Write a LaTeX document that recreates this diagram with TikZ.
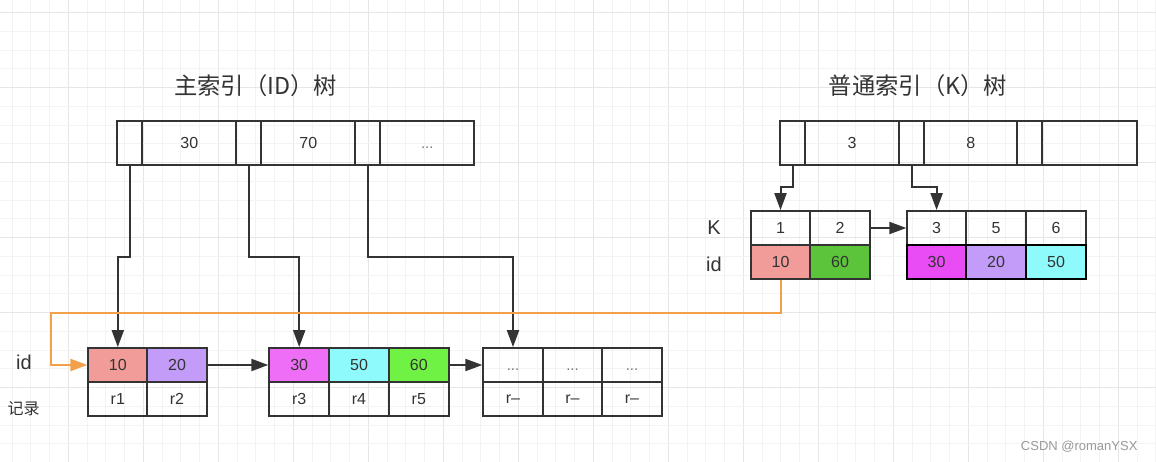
\documentclass[tikz,border=0pt]{standalone}
\usepackage{fontspec}
\setmainfont{Liberation Sans}
\newfontfamily\cjk{Noto Sans CJK SC}
\usetikzlibrary{arrows.meta}
\definecolor{linec}{HTML}{333333}
\definecolor{textc}{HTML}{333333}
\definecolor{gridminor}{HTML}{F3F3F3}
\definecolor{gridmajor}{HTML}{E6E6E6}
\definecolor{orangec}{HTML}{F2A04C}
\definecolor{cten}{HTML}{F19C99}
\definecolor{ctwenty}{HTML}{C39BF8}
\definecolor{cthirtyb}{HTML}{EE6EF7}
\definecolor{cthirtyr}{HTML}{E94BF5}
\definecolor{cfifty}{HTML}{8FFAFB}
\definecolor{csixtyb}{HTML}{6FF244}
\definecolor{csixtyr}{HTML}{5CC43A}
\definecolor{markc}{HTML}{999999}
\definecolor{dotc}{HTML}{777777}
\tikzset{
  cell/.style={draw=linec, line width=1.8pt, minimum height=34pt, inner sep=0pt,
    font=\fontsize{16}{16}\selectfont, text=textc},
  topcell/.style={cell, minimum height=44pt},
  arr/.style={draw=linec, line width=2pt, -{Triangle[length=17pt,width=12pt]}},
  oarr/.style={draw=orangec, line width=2pt, -{Triangle[length=17pt,width=12pt]}},
  title/.style={font=\cjk\fontsize{23.3}{23.3}\selectfont, text=textc},
  lbl/.style={font=\fontsize{20}{20}\selectfont, text=textc},
  dots/.style={font=\fontsize{15}{15}\selectfont, text=dotc, execute at begin node=\vphantom{0}}
}
\begin{document}
\begin{tikzpicture}[x=1pt,y=-1pt]
\useasboundingbox (0,0) rectangle (1156,462);
\fill[white] (0,0) rectangle (1156,462);
% grid
\foreach \i in {0,...,61}{
  \pgfmathsetmacro{\gx}{12.05+18.75*\i}
  \pgfmathtruncatemacro{\gm}{mod(\i,4)}
  \ifnum\gm=3
    \draw[gridmajor, line width=1pt] (\gx,0) -- (\gx,462);
  \else
    \draw[gridminor, line width=1pt] (\gx,0) -- (\gx,462);
  \fi
}
\foreach \j in {0,...,23}{
  \pgfmathsetmacro{\gy}{12.7+18.75*\j}
  \pgfmathtruncatemacro{\gm}{mod(\j,4)}
  \ifnum\gm=0
    \draw[gridmajor, line width=1pt] (0,\gy) -- (1156,\gy);
  \else
    \draw[gridminor, line width=1pt] (0,\gy) -- (1156,\gy);
  \fi
}
% titles
\node[title] (t1) at (255.5,86) {主索引（ID）树};
\node[title] (t2) at (918,86) {普通索引（K）树};
% main tree root
\node[topcell, minimum width=25pt] (m0) at (129.8,143.3) {};
\node[topcell, minimum width=94pt] (m1) at (189.3,143.3) {30};
\node[topcell, minimum width=25pt] (m2) at (248.8,143.3) {};
\node[topcell, minimum width=94pt] (m3) at (308.3,143.3) {70};
\node[topcell, minimum width=25pt] (m4) at (367.8,143.3) {};
\node[topcell, minimum width=94pt, dots] (m5) at (427.3,143.3) {...};
% K tree root
\node[topcell, minimum width=25pt] (k0) at (792.5,143.3) {};
\node[topcell, minimum width=94.3pt] (k1) at (852.1,143.3) {3};
\node[topcell, minimum width=24.7pt] (k2) at (911.7,143.3) {};
\node[topcell, minimum width=93.3pt] (k3) at (970.7,143.3) {8};
\node[topcell, minimum width=25pt] (k4) at (1029.8,143.3) {};
\node[topcell, minimum width=94.4pt] (k5) at (1089.5,143.3) {};
% K leaves
\node[cell, minimum width=59.5pt] (p1a) at (780.5,228) {1};
\node[cell, minimum width=60pt] (p1b) at (840,228) {2};
\node[cell, minimum width=59.5pt, fill=cten] (p1c) at (780.5,262) {10};
\node[cell, minimum width=60pt, fill=csixtyr] (p1d) at (840,262) {60};
\node[cell, minimum width=58.7pt] (p2a) at (936.6,228) {3};
\node[cell, minimum width=60pt] (p2b) at (996,228) {5};
\node[cell, minimum width=60pt] (p2c) at (1056,228) {6};
\node[cell, minimum width=58.7pt, fill=cthirtyr, draw=black, line width=2.2pt] (p2d) at (936.6,262) {30};
\node[cell, minimum width=60pt, fill=ctwenty, draw=black, line width=2.2pt] (p2e) at (996,262) {20};
\node[cell, minimum width=60pt, fill=cfifty, draw=black, line width=2.2pt] (p2f) at (1056,262) {50};
% K labels
\node[lbl] (lk) at (714,228) {K};
\node[lbl] (lid2) at (714,264) {id};
% bottom leaves
\node[cell, minimum width=59pt, fill=cten] (b1a) at (117.8,365) {10};
\node[cell, minimum width=59.4pt, fill=ctwenty] (b1b) at (177,365) {20};
\node[cell, minimum width=59pt] (b1c) at (117.8,399) {r1};
\node[cell, minimum width=59.4pt] (b1d) at (177,399) {r2};
\node[cell, minimum width=60pt, fill=cthirtyb] (b2a) at (299.2,365) {30};
\node[cell, minimum width=60pt, fill=cfifty] (b2b) at (359,365) {50};
\node[cell, minimum width=60pt, fill=csixtyb] (b2c) at (418.8,365) {60};
\node[cell, minimum width=60pt] (b2d) at (299.2,399) {r3};
\node[cell, minimum width=60pt] (b2e) at (359,399) {r4};
\node[cell, minimum width=60pt] (b2f) at (418.8,399) {r5};
\node[cell, minimum width=59.5pt, dots] (b3a) at (513,365) {...};
\node[cell, minimum width=59.5pt, dots] (b3b) at (572.5,365) {...};
\node[cell, minimum width=59.5pt, dots] (b3c) at (632,365) {...};
\node[cell, minimum width=59.5pt] (b3d) at (513,399) {r–};
\node[cell, minimum width=59.5pt] (b3e) at (572.5,399) {r–};
\node[cell, minimum width=59.5pt] (b3f) at (632,399) {r–};
% left labels
\node[lbl] (lid) at (24,362.5) {id};
\node[font=\cjk\fontsize{16}{16}\selectfont, text=textc] (lrec) at (23.5,409) {记录};
% main tree connectors
\draw[arr] (m0.south) -- (m0.south |- 0,256.7) -| (b1a.north);
\draw[arr] (m2.south) -- (m2.south |- 0,256.7) -| (b2a.north);
\draw[arr] (m4.south) -- (m4.south |- 0,256.7) -| (b3a.north);
\draw[arr] (b1b.east) -- (b2a.west);
\draw[arr] (b2c.east) -- (b3a.west);
% K tree connectors
\draw[arr] (k0.south) -- (k0.south |- 0,187.3) -| (p1a.north);
\draw[arr] (k2.south) -- (k2.south |- 0,187.3) -| (p2a.north);
\draw[arr] (p1b.east) -- (p2a.west);
% orange back-reference
\coordinate (oc) at (50.7,313.3);
\draw[oarr] (p1c.south) |- (oc) |- (b1a.west);
% watermark
\node[font=\fontsize{13}{13}\selectfont, text=markc, anchor=east] (wm) at (1141,447) {CSDN @romanYSX};
\end{tikzpicture}
\end{document}
